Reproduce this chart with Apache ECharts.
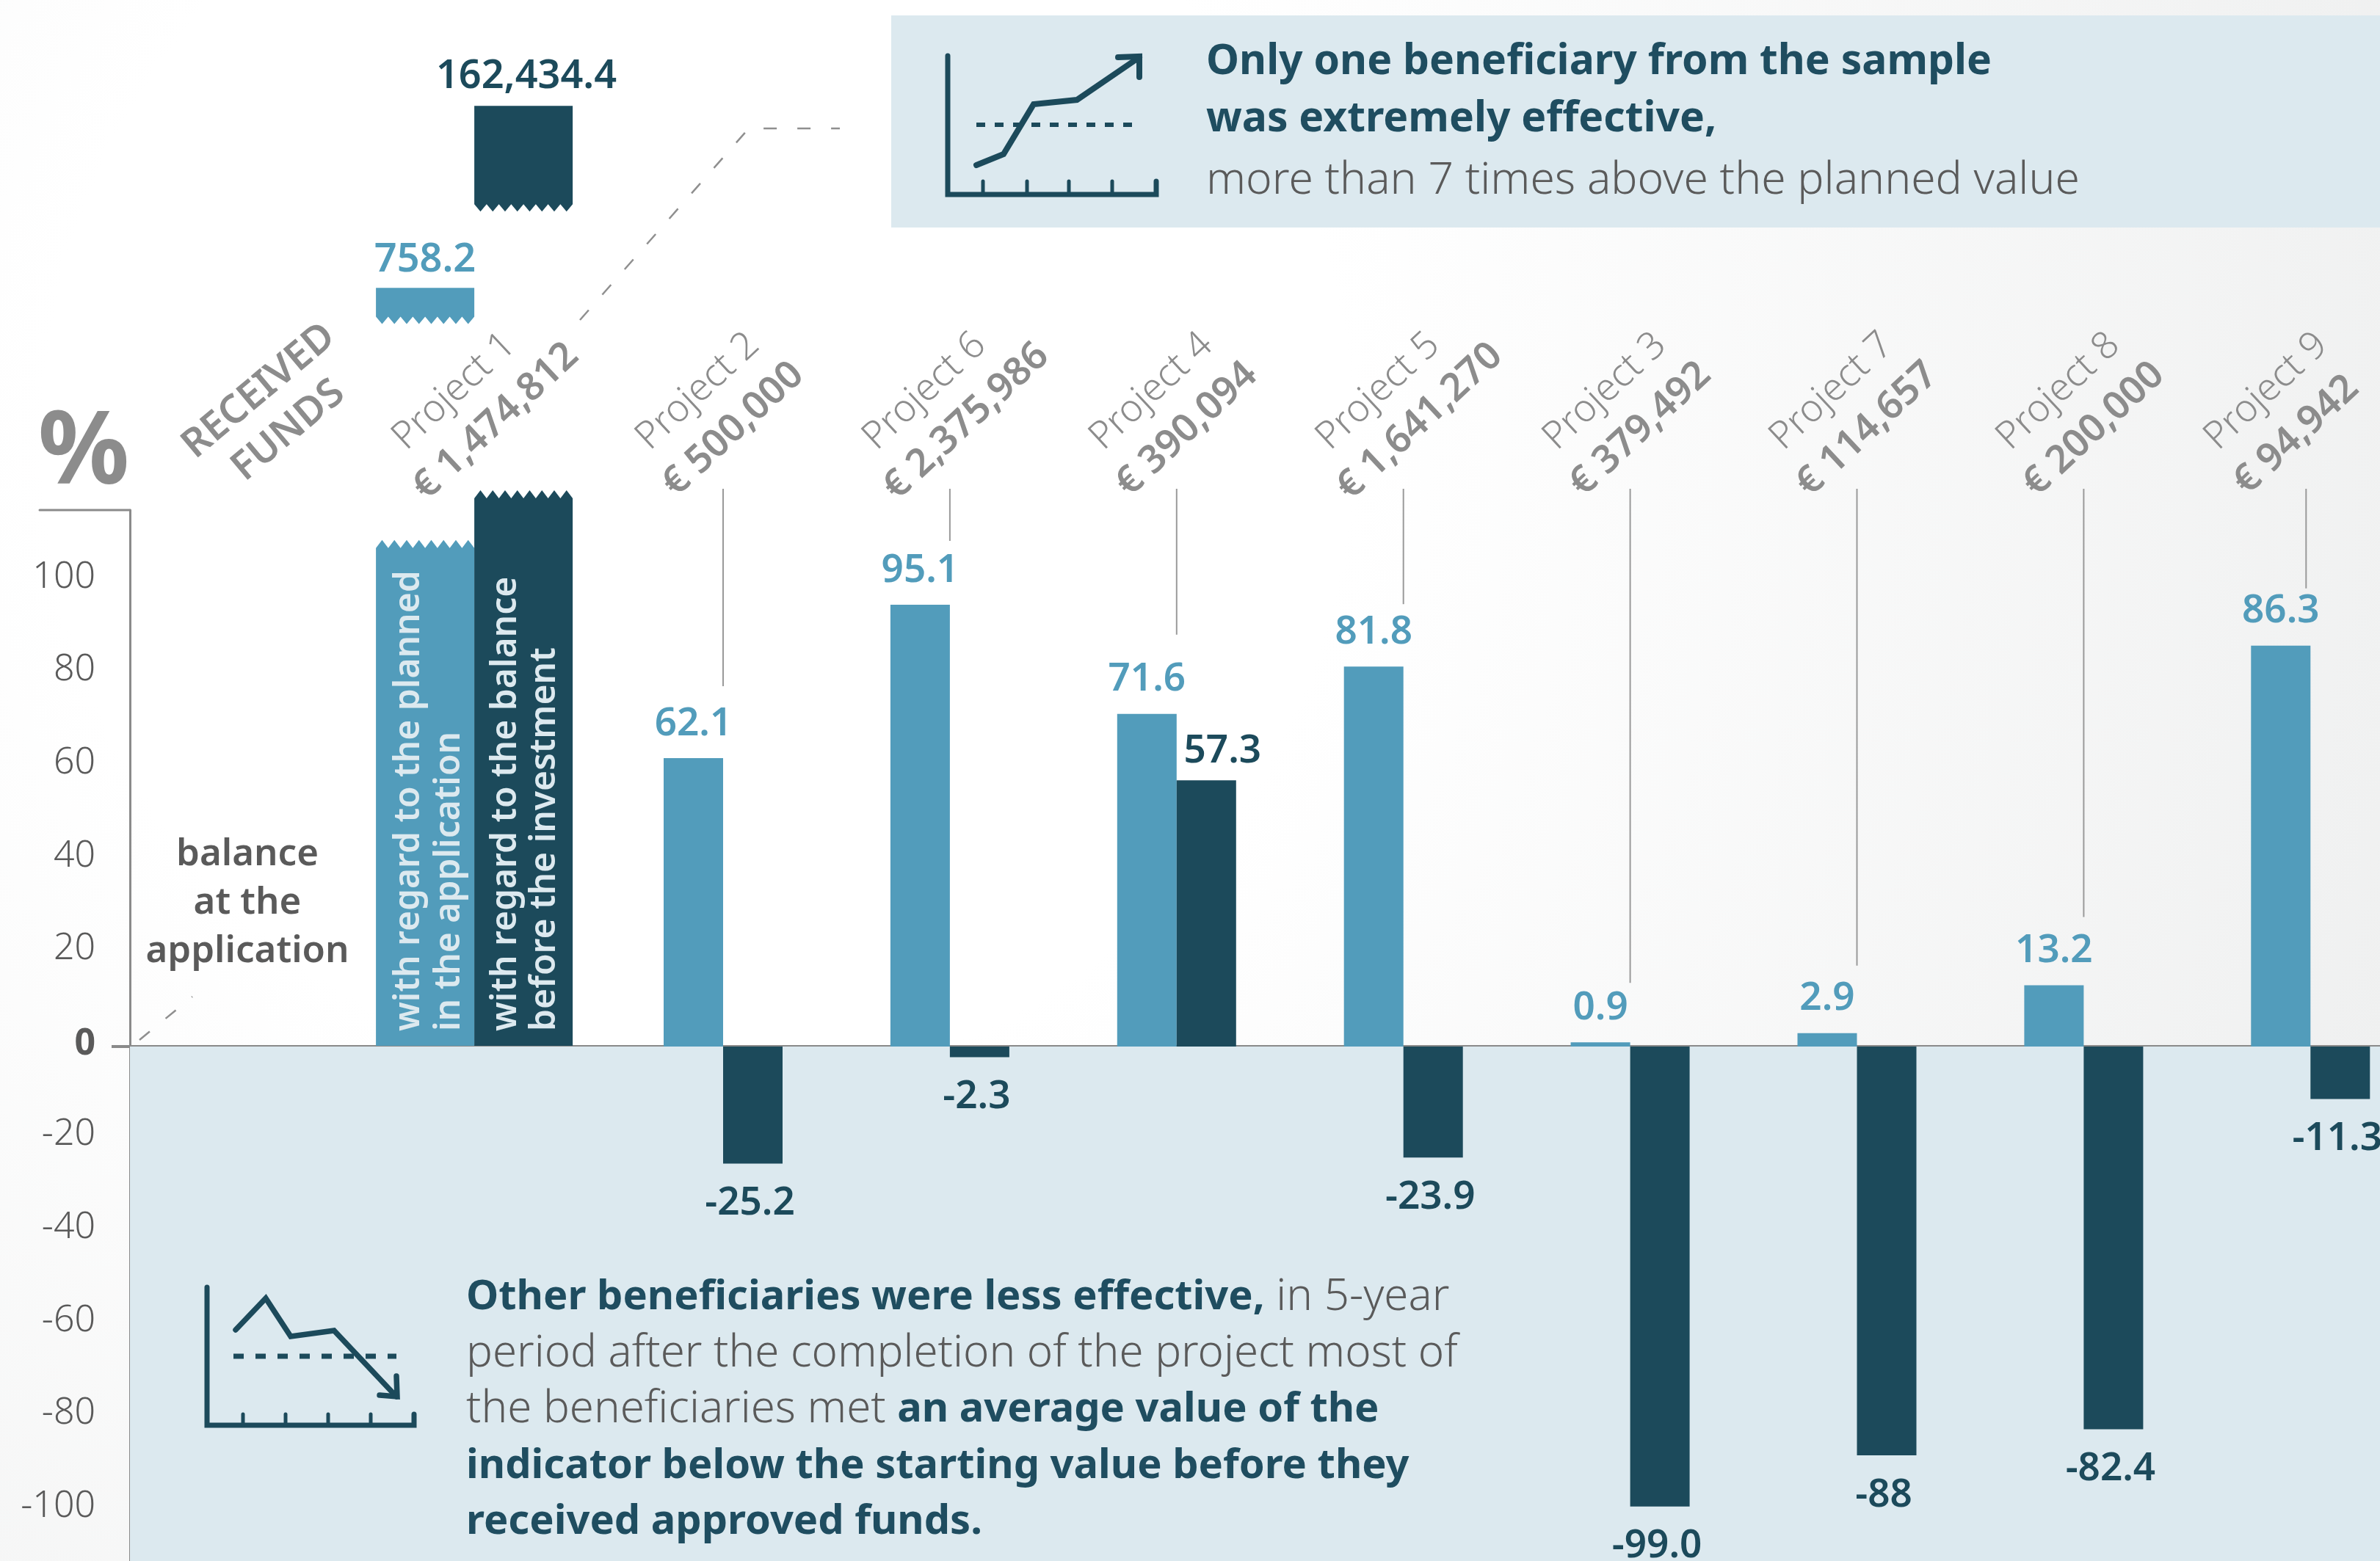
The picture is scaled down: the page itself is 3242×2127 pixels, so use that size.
<!DOCTYPE html>
<html>
<head>
<meta charset="utf-8">
<style>html,body{margin:0;padding:0;background:#fff}#c{width:3242px;height:2127px}</style>
<script src="https://cdn.jsdelivr.net/npm/echarts@6/dist/echarts.min.js"></script>
</head>
<body>
<div id="c"></div>
<script>
const categories = ['Project 1','Project 2','Project 6','Project 4','Project 5','Project 3','Project 7','Project 8','Project 9'];
const funds = ['€ 1,474,812','€ 500,000','€ 2,375,986','€ 390,094','€ 1,641,270','€ 379,492','€ 114,657','€ 200,000','€ 94,942'];
const plannedPct = [758.2, 62.1, 95.1, 71.6, 81.8, 0.9, 2.9, 13.2, 86.3];
const balancePct = [162434.4, -25.2, -2.3, 57.3, -23.9, -99.0, -88, -82.4, -11.3];
const plannedLabels = ['758.2','62.1','95.1','71.6','81.8','0.9','2.9','13.2','86.3'];
const balanceLabels = ['162,434.4','-25.2','-2.3','57.3','-23.9','-99.0','-88','-82.4','-11.3'];
const yTicks = [-100,-80,-60,-40,-20,0,20,40,60,80,100];

const LIGHT='#529cbb', DARK='#1c4a5b', PANEL='#dce9ef', GREY='#8c8c8c', TEXT='#5a5a5a', AXIS='#8a8a8a';
const SANS='"Noto Sans"';
const PX_PER_UNIT=6.33, ZERO_Y=1426, Y_MIN=-120, Y_MAX=115.5;
const gridTop=ZERO_Y-Y_MAX*PX_PER_UNIT, gridHeight=(Y_MAX-Y_MIN)*PX_PER_UNIT;

function labelFont(){return {fontFamily:SANS,fontWeight:600,fontSize:53};}

// Broken first project: stubs are drawn at a fixed break position, real values go in the labels.
function zig(x0,x1,yBase,yTip,n){
  const pts=[];const w=(x1-x0)/n;
  for(let k=0;k<n;k++){pts.push([x0+k*w,yBase]);pts.push([x0+(k+.5)*w,yTip]);}
  pts.push([x1,yBase]);return pts;
}
function renderBroken(params,api){
  const i=params.dataIndex;            // 0 = planned, 1 = balance
  const cx=api.coord([0,0])[0]-30, zero=api.coord([0,0])[1];
  const x0=i===0?cx-134:cx, x1=i===0?cx:cx+134;
  const color=i===0?LIGHT:DARK;
  const yOf=v=>api.coord([0,v])[1];
  const lowBase=yOf(i===0?107.3:118), lowTip=lowBase-11;
  const upTop=yOf(i===0?163.3:202.5), upBase=yOf(i===0?157.1:181.3), upTip=upBase+10;
  const lower=zig(x0,x1,lowBase,lowTip,8).concat([[x1,zero-1],[x0,zero-1]]);
  const upper=[[x0,upTop],[x1,upTop]].concat(zig(x0,x1,upBase,upTip,8).reverse());
  const text=i===0?plannedLabels[0]:balanceLabels[0];
  const lblX=i===0?579:717, lblY=i===0?355:105;
  const inner=i===0?[['with regard to the planned',557],['in the application',612]]
                   :[['with regard to the balance',689],['before the investment',742]];
  const children=[
    {type:'polygon',shape:{points:lower},style:{fill:color}},
    {type:'polygon',shape:{points:upper},style:{fill:color}},
    {type:'text',x:lblX,y:lblY,style:{text,fill:color,font:'600 54px '+SANS,align:'center',verticalAlign:'middle'}}
  ];
  inner.forEach(t=>children.push({type:'text',x:t[1],y:1405,rotation:Math.PI/2,
    style:{text:t[0],fill:PANEL,font:'600 48px '+SANS,align:'left',verticalAlign:'middle'}}));
  return {type:'group',children};
}
function renderCat(params,api){
  const i=params.dataIndex;
  const c=api.coord([i,0])[0];
  const shift=i===0?-23:(i===8?-26:0);
  const fundShift=i===8?12:(i===0||i===2||i===4?0:8);
  const lx=i===0?c-30:(i===8?c-6:c);
  const rot=43*Math.PI/180;
  const gap=[0,98,87,108,85,81,92,93,78][i];
  const children=[
    {type:'text',x:c-110+shift,y:604,rotation:rot,style:{text:categories[i],fill:GREY,font:'300 52px '+SANS,align:'left',verticalAlign:'middle'}},
    {type:'text',x:c-82+shift+fundShift,y:672-fundShift*0.6,rotation:rot,style:{text:funds[i],fill:GREY,font:'600 53px '+SANS,align:'left',verticalAlign:'middle'}}
  ];
  if(i>0){
    const top=api.coord([i,plannedPct[i]])[1];
    children.push({type:'line',shape:{x1:lx,y1:666,x2:lx,y2:top-gap},style:{stroke:'#9a9a9a',lineWidth:2}});
  }
  return {type:'group',children};
}
const plannedData=plannedPct.map((v,i)=>i===0?null:v);
const balanceData=balancePct.map((v,i)=>{
  if(i===0) return null;
  if(v===57.3) return {value:v,label:{position:'top',offset:[22,0],distance:13}};
  return v;
});

function line(pts,w,dash,color){return {type:'polyline',shape:{points:pts},style:{stroke:color||DARK,lineWidth:w,fill:null,lineDash:dash||null,lineCap:dash?'butt':'round',lineJoin:'miter'},z:5};}
const graphic=[
  {type:'rect',shape:{x:1214,y:21,width:2028,height:289},style:{fill:PANEL},z:1},
  line([[54,695],[177,695]],3,null,AXIS),
  line([[790,436],[1020,175],[1144,175]],2.5,[18,28],'#8f8f8f'),
  line([[190,1417],[262,1358]],2.5,[18,28],'#8f8f8f'),
  // rising icon
  line([[1291,76],[1291,265],[1575,265],[1575,247]],7),
  line([[1339,265],[1339,247]],5),line([[1399,265],[1399,247]],5),line([[1456,265],[1456,247]],5),line([[1515,265],[1515,247]],5),
  line([[1330,225],[1367,210],[1408,142],[1467,136],[1552,78]],8),
  line([[1523,78],[1552,77],[1552,105]],8),
  line([[1330,170],[1552,170]],6,[12,13]),
  // falling icon
  line([[282,1754],[282,1942],[564,1942],[564,1927]],7),
  line([[331,1942],[331,1927]],5),line([[389,1942],[389,1927]],5),line([[447,1942],[447,1927]],5),line([[505,1942],[505,1927]],5),
  line([[321,1812],[362,1769],[396,1821],[455,1813],[540,1903]],7.5),
  line([[540,1875],[541,1903],[517,1901]],7.5),
  line([[318,1848],[540,1848]],7,[14,16]),
  // top note
  {type:'text',x:1643,y:46,z:6,style:{rich:{
      b:{fontFamily:SANS,fontWeight:700,fontSize:57,fill:'#1f4d60',lineHeight:78},
      l:{fontFamily:SANS,fontWeight:300,fontSize:60.5,fill:TEXT,lineHeight:90}},
      text:'{b|Only one beneficiary from the sample}\n{b|was extremely effective,}\n{l|more than 7 times above the planned value}'}},
  // bottom note
  {type:'text',x:635,y:1730,z:6,style:{rich:{
      b:{fontFamily:SANS,fontWeight:700,fontSize:56,fill:'#1f4d60',lineHeight:76.5},
      l:{fontFamily:SANS,fontWeight:300,fontSize:60,fill:TEXT,lineHeight:76.5}},
      text:'{b|Other beneficiaries were less effective,}{l| in 5-year}\n{l|period after the completion of the project most of}\n{l|the beneficiaries met }{b|an average value of the}\n{b|indicator below the starting value before they}\n{b|received approved funds.}'}},
  // side captions
  {type:'text',x:114,y:620,z:6,style:{text:'%',fill:GREY,font:'700 138px '+SANS,align:'center',verticalAlign:'middle'}},
  {type:'text',x:353,y:533,z:6,rotation:40*Math.PI/180,style:{text:'RECEIVED',fill:GREY,font:'600 54px '+SANS,align:'center',verticalAlign:'middle'}},
  {type:'text',x:393,y:587,z:6,rotation:40*Math.PI/180,style:{text:'FUNDS',fill:GREY,font:'600 54px '+SANS,align:'center',verticalAlign:'middle'}},
  {type:'text',x:337,y:1164,z:6,style:{text:'balance',fill:TEXT,font:'600 51px '+SANS,align:'center',verticalAlign:'middle'}},
  {type:'text',x:337,y:1230,z:6,style:{text:'at the',fill:TEXT,font:'600 51px '+SANS,align:'center',verticalAlign:'middle'}},
  {type:'text',x:337,y:1296,z:6,style:{text:'application',fill:TEXT,font:'600 51px '+SANS,align:'center',verticalAlign:'middle'}}
];

const chart=echarts.init(document.getElementById('c'),null,{renderer:'canvas',width:3242,height:2127});
chart.setOption({
  animation:false,
  backgroundColor:{type:'radial',x:950,y:600,r:2550,global:true,colorStops:[{offset:0,color:'#ffffff'},{offset:.35,color:'#ffffff'},{offset:1,color:'#eeefef'}]},
  graphic,
  grid:[
    {left:177,width:3065,top:gridTop,height:gridHeight,outerBoundsMode:'none'},
    {left:521.65,width:2780.1,top:gridTop,height:gridHeight,outerBoundsMode:'none'}
  ],
  xAxis:[
    {type:'category',gridIndex:0,data:[''],axisTick:{show:false},axisLabel:{show:false},
     axisLine:{show:true,onZero:true,lineStyle:{color:AXIS,width:4}}},
    {type:'category',gridIndex:1,data:categories,show:false}
  ],
  yAxis:[
    {type:'value',gridIndex:0,min:Y_MIN,max:Y_MAX,interval:20,splitLine:{show:false},
     axisLine:{show:true,onZero:false,lineStyle:{color:AXIS,width:3}},
     axisTick:{show:true,customValues:[0],length:25,lineStyle:{color:AXIS,width:4}},
     axisLabel:{margin:47,showMaxLabel:false,
       formatter:v=>v===0?'{z|0}':(yTicks.indexOf(v)>=0?'{n|'+v+'}':''),
       rich:{n:{fontFamily:SANS,fontWeight:300,fontSize:50,color:TEXT,padding:[0,0,13,0]},
             z:{fontFamily:SANS,fontWeight:700,fontSize:50,color:TEXT,padding:[0,0,6,0]}}}},
    {type:'value',gridIndex:1,min:Y_MIN,max:Y_MAX,interval:20,show:false,splitLine:{show:false}}
  ],
  series:[
    {type:'line',name:'panel',xAxisIndex:0,yAxisIndex:0,data:[null],silent:true,z:0,symbol:'none',
     markArea:{silent:true,itemStyle:{color:PANEL,opacity:1},data:[[{yAxis:0},{yAxis:Y_MIN}]]}},
    {type:'bar',name:'with regard to the planned in the application',xAxisIndex:1,yAxisIndex:1,data:plannedData,
     barWidth:81,barGap:0,z:3,itemStyle:{color:LIGHT},
     label:{show:true,position:'top',distance:20,color:LIGHT,...labelFont(),formatter:p=>plannedLabels[p.dataIndex]}},
    {type:'bar',name:'with regard to the balance before the investment',xAxisIndex:1,yAxisIndex:1,data:balanceData,
     barWidth:81,barGap:0,z:3,itemStyle:{color:DARK},
     label:{show:true,position:'bottom',distance:28,offset:[-4,0],color:DARK,...labelFont(),formatter:p=>balanceLabels[p.dataIndex]}},
    {type:'custom',name:'broken bars',xAxisIndex:1,yAxisIndex:1,clip:false,z:4,silent:true,
     data:[plannedPct[0],balancePct[0]],renderItem:renderBroken},
    {type:'custom',name:'category labels',xAxisIndex:1,yAxisIndex:1,clip:false,z:2,silent:true,
     data:categories.map((c,i)=>i),renderItem:renderCat}
  ]
});
</script>
</body>
</html>
